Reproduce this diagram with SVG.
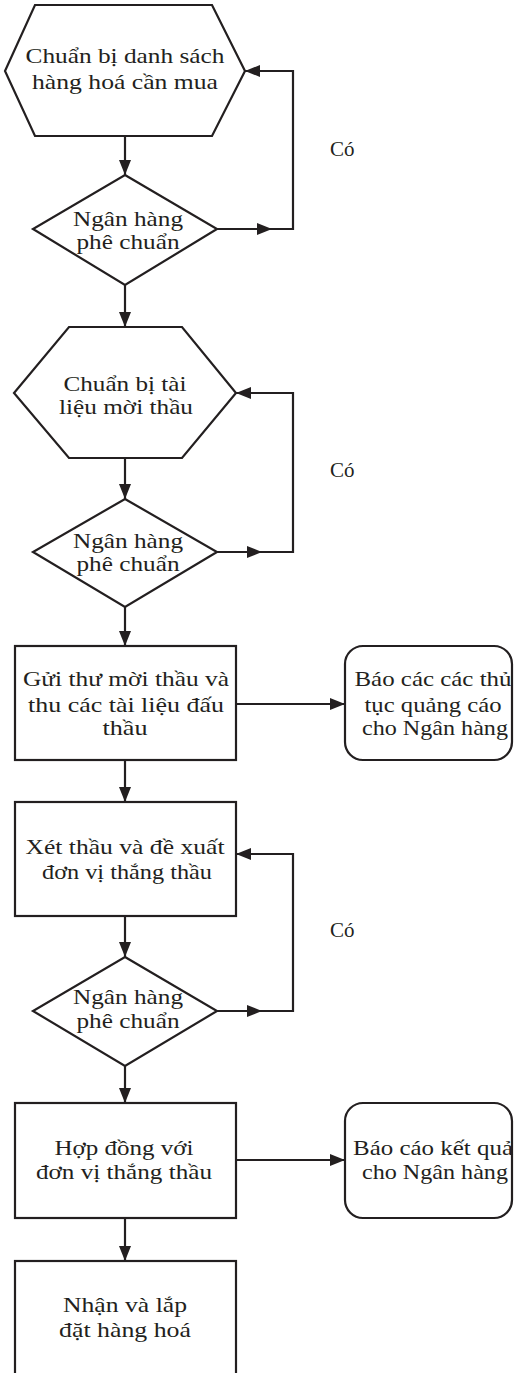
<svg xmlns="http://www.w3.org/2000/svg" width="514" height="1373" viewBox="0 0 514 1373">
<style>
.s{fill:#fff;stroke:#231f20;stroke-width:2.2;stroke-linejoin:miter}
.c{fill:none;stroke:#231f20;stroke-width:2.2}
text{font-family:"Liberation Serif","DejaVu Serif",serif;font-size:21px;fill:#231f20;text-anchor:middle}
.l{text-anchor:start}
</style>
<defs>
<marker id="ah" markerUnits="userSpaceOnUse" markerWidth="15" markerHeight="12" refX="15" refY="6" orient="auto">
<path d="M0,0 L15,6 L0,12 z" fill="#231f20"/>
</marker>
</defs>
<rect width="514" height="1373" fill="#fff"/>
<g id="connectors">
<path class="c" d="M125,136 V175" marker-end="url(#ah)"/>
<path class="c" d="M217,229 H272" marker-end="url(#ah)"/>
<path class="c" d="M272,229 H293 V71 H245" marker-end="url(#ah)"/>
<path class="c" d="M125,285 V327" marker-end="url(#ah)"/>
<path class="c" d="M125,458 V499" marker-end="url(#ah)"/>
<path class="c" d="M217,552 H262" marker-end="url(#ah)"/>
<path class="c" d="M262,552 H293 V393 H236" marker-end="url(#ah)"/>
<path class="c" d="M125,607 V646" marker-end="url(#ah)"/>
<path class="c" d="M236,704 H345" marker-end="url(#ah)"/>
<path class="c" d="M125,760 V802" marker-end="url(#ah)"/>
<path class="c" d="M125,916 V957" marker-end="url(#ah)"/>
<path class="c" d="M217,1011 H262" marker-end="url(#ah)"/>
<path class="c" d="M262,1011 H293 V854 H236" marker-end="url(#ah)"/>
<path class="c" d="M125,1066 V1103" marker-end="url(#ah)"/>
<path class="c" d="M236,1160 H345" marker-end="url(#ah)"/>
<path class="c" d="M125,1218 V1261" marker-end="url(#ah)"/>
<text class="l" x="330" y="156">Có</text>
<text class="l" x="330" y="477">Có</text>
<text class="l" x="330" y="937">Có</text>
</g>
<g id="hex1">
<polygon class="s" points="35,5 212,5 245,71 212,136 35,136 5,71"/>
<text x="125" y="63" textLength="199" lengthAdjust="spacingAndGlyphs">Chuẩn bị danh sách</text>
<text x="125" y="89" textLength="186" lengthAdjust="spacingAndGlyphs">hàng hoá cần mua</text>
</g>
<g id="dec1">
<polygon class="s" points="125,175 217,229 125,285 33,229"/>
<text x="128" y="226" textLength="110" lengthAdjust="spacingAndGlyphs">Ngân hàng</text>
<text x="128" y="249" textLength="103" lengthAdjust="spacingAndGlyphs">phê chuẩn</text>
</g>
<g id="hex2">
<polygon class="s" points="69,327 182,327 236,393 182,458 69,458 14,393"/>
<text x="125" y="391" textLength="123" lengthAdjust="spacingAndGlyphs">Chuẩn bị tài</text>
<text x="126" y="414" textLength="134" lengthAdjust="spacingAndGlyphs">liệu mời thầu</text>
</g>
<g id="dec2">
<polygon class="s" points="125,499 217,552 125,607 33,552"/>
<text x="128" y="548" textLength="110" lengthAdjust="spacingAndGlyphs">Ngân hàng</text>
<text x="128" y="571" textLength="103" lengthAdjust="spacingAndGlyphs">phê chuẩn</text>
</g>
<g id="box3">
<rect class="s" x="15" y="646" width="221" height="114"/>
<text x="126" y="686" textLength="206" lengthAdjust="spacingAndGlyphs">Gửi thư mời thầu và</text>
<text x="126" y="712" textLength="196" lengthAdjust="spacingAndGlyphs">thu các tài liệu đấu</text>
<text x="125" y="735" textLength="45" lengthAdjust="spacingAndGlyphs">thầu</text>
</g>
<g id="note1">
<rect class="s" x="345" y="646" width="167" height="114" rx="18"/>
<text x="433" y="686" textLength="157" lengthAdjust="spacingAndGlyphs">Báo các các thủ</text>
<text x="433" y="712" textLength="137" lengthAdjust="spacingAndGlyphs">tục quảng cáo</text>
<text x="435" y="735" textLength="146" lengthAdjust="spacingAndGlyphs">cho Ngân hàng</text>
</g>
<g id="box4">
<rect class="s" x="15" y="802" width="221" height="114"/>
<text x="125" y="854" textLength="199" lengthAdjust="spacingAndGlyphs">Xét thầu và đề xuất</text>
<text x="127" y="879" textLength="170" lengthAdjust="spacingAndGlyphs">đơn vị thắng thầu</text>
</g>
<g id="dec3">
<polygon class="s" points="125,957 217,1011 125,1066 33,1011"/>
<text x="128" y="1004" textLength="110" lengthAdjust="spacingAndGlyphs">Ngân hàng</text>
<text x="128" y="1028" textLength="103" lengthAdjust="spacingAndGlyphs">phê chuẩn</text>
</g>
<g id="box5">
<rect class="s" x="15" y="1103" width="221" height="115"/>
<text x="124" y="1155" textLength="139" lengthAdjust="spacingAndGlyphs">Hợp đồng với</text>
<text x="124" y="1179" textLength="176" lengthAdjust="spacingAndGlyphs">đơn vị thắng thầu</text>
</g>
<g id="note2">
<rect class="s" x="345" y="1103" width="167" height="115" rx="18"/>
<text x="433" y="1155" textLength="160" lengthAdjust="spacingAndGlyphs">Báo cáo kết quả</text>
<text x="435" y="1179" textLength="146" lengthAdjust="spacingAndGlyphs">cho Ngân hàng</text>
</g>
<g id="box6">
<rect class="s" x="15" y="1261" width="221" height="130"/>
<text x="125" y="1312" textLength="124" lengthAdjust="spacingAndGlyphs">Nhận và lắp</text>
<text x="125" y="1337" textLength="132" lengthAdjust="spacingAndGlyphs">đặt hàng hoá</text>
</g>
</svg>
